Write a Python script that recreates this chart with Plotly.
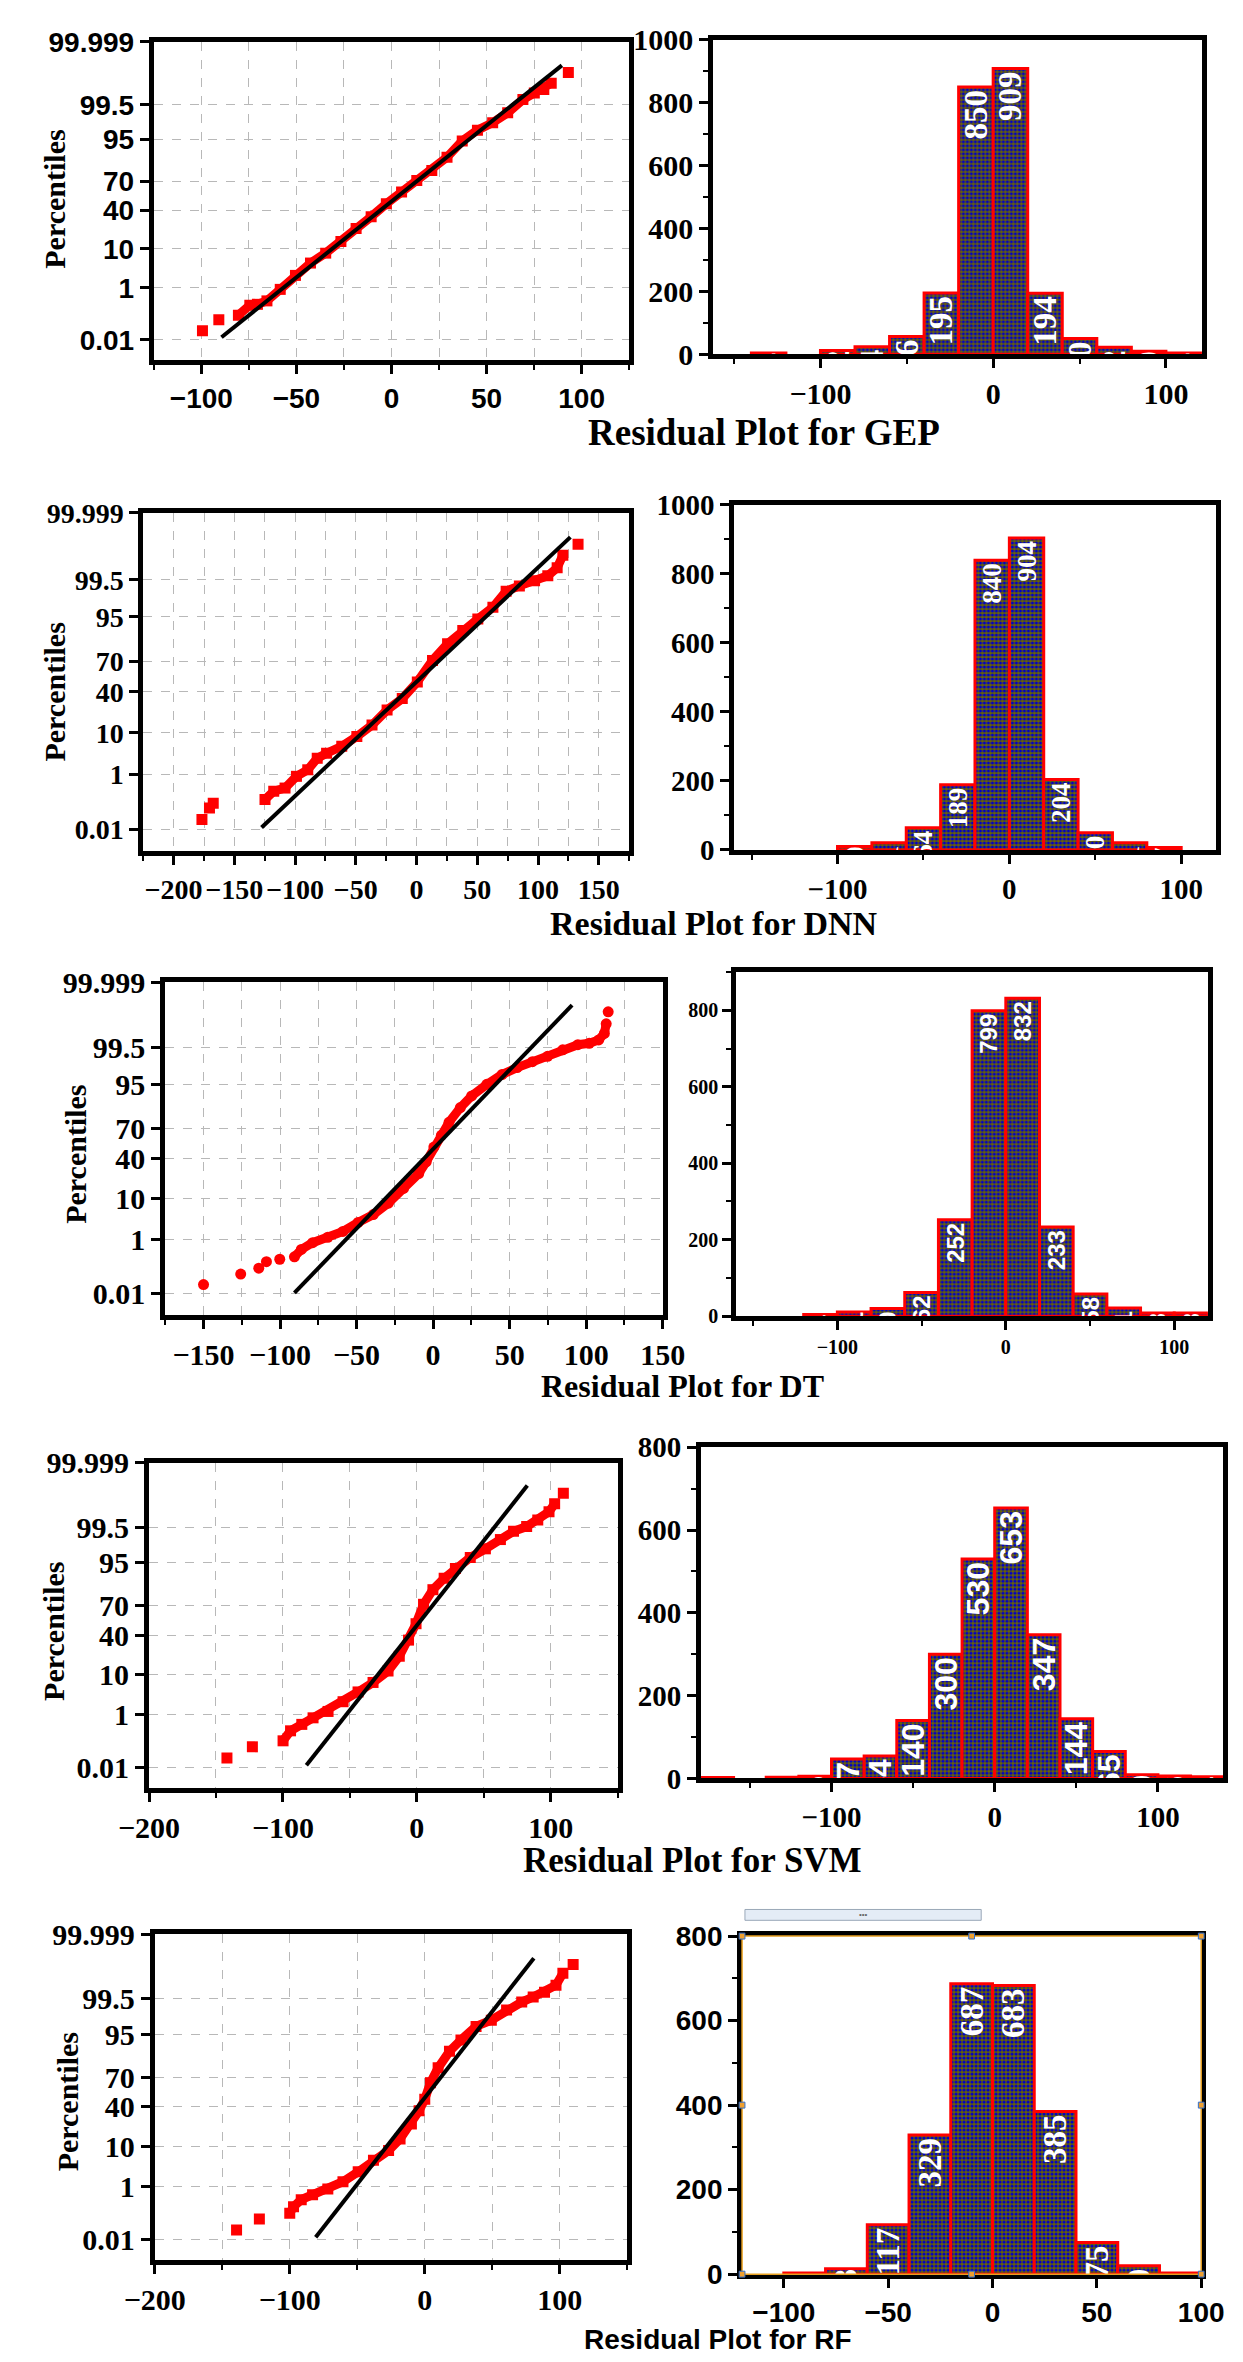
import numpy as np
import plotly.graph_objects as go

W, H = 1243, 2362
SERIF = "Liberation Serif, Times New Roman, serif"
SANS = "Liberation Sans, Arial, sans-serif"

# ---------------- data: normal probability plots ----------------
PCT_TICKS = [0.01, 1, 10, 40, 70, 95, 99.5, 99.999]
PCT_TICK_TEXT = ["0.01", "1", "10", "40", "70", "95", "99.5", "99.999"]
PCT_RANGE = [0.001, 99.999]

GEP_res_band = [-80.5, -74.5, -70.5, -65.5, -58.5, -50.5, -42.6, -34.6, -26.6, -18.6, -10.7, -2.7, 5.3, 13.3, 21.2,
                29.2, 37.2, 45.2, 53.2, 61.1, 69.1, 75.1, 80.1, 84.0]
GEP_pct_band = [0.11, 0.26, 0.28, 0.37, 0.89, 2.3, 4.8, 8.1, 13.8, 23, 33.6, 47, 59.5, 70.9, 79.2,
                87.9, 94.6, 97.1, 98.2, 99.09, 99.67, 99.81, 99.86, 99.92]
GEP_res_out = [-99.4, -90.8, 93.0]
GEP_pct_out = [0.025, 0.072, 99.971]
GEP_fit_res = [-89.4, 89.6]
GEP_fit_pct = [0.013, 99.986]

DNN_res_band = [-124.8, -117.6, -108.3, -98.9, -89.6, -81.8, -74.1, -61.6, -49.2, -36.7, -24.3, -11.8, 0.6, 13.1,
                25.5, 38.0, 50.4, 62.8, 73.7, 84.6, 97.1, 108.0, 115.7, 120.4]
DNN_pct_band = [0.15, 0.29, 0.37, 0.86, 1.33, 2.7, 3.6, 5.2, 8.4, 13.8, 23.9, 33.7, 50, 70.6,
                83.2, 90.3, 94.4, 97.0, 98.9, 99.23, 99.46, 99.63, 99.80, 99.93]
DNN_res_out = [-176.7, -170.5, -167.4, 132.9]
DNN_pct_out = [0.026, 0.074, 0.11, 99.974]
DNN_fit_res = [-127.6, 126.6]
DNN_fit_pct = [0.012, 99.987]

DT_res_band = [-90.6, -86.1, -78.7, -68.8, -58.9, -49.0, -39.1, -29.2, -19.3, -9.4, -4.5, 0.5, 5.4, 10.4, 17.8,
               25.2, 35.1, 45.0, 54.9, 64.9, 74.8, 84.7, 94.6, 102.0, 108.2, 111.9, 113.1]
DT_pct_band = [0.28, 0.49, 0.80, 1.16, 1.70, 2.94, 4.55, 8.1, 15.4, 26.1, 36.7, 51.6, 63.3, 74.9, 85.3,
               91.1, 95.0, 97.1, 98.1, 98.7, 99.09, 99.43, 99.61, 99.65, 99.73, 99.84, 99.93]
DT_res_out = [-150.0, -125.7, -113.9, -108.9, -100.2, 114.4]
DT_pct_out = [0.025, 0.066, 0.11, 0.19, 0.23, 99.977]
DT_fit_res = [-90.6, 90.8]
DT_fit_pct = [0.011, 99.988]

SVM_res_band = [-99.9, -94.3, -85.9, -77.5, -66.3, -55.1, -43.9, -32.7, -21.5, -13.1, -6.2, -0.6, 5.0, 12.0,
                20.4, 28.8, 39.9, 51.2, 62.4, 72.2, 82.0, 90.3, 98.7, 102.9]
SVM_pct_band = [0.126, 0.29, 0.48, 0.78, 1.22, 2.3, 4.1, 6.8, 11.7, 21.1, 35.2, 52, 71.2, 82.7,
                89.3, 93.3, 96.3, 97.8, 98.8, 99.33, 99.53, 99.72, 99.86, 99.93]
SVM_res_out = [-141.8, -122.8, 109.4]
SVM_pct_out = [0.026, 0.074, 99.974]
SVM_fit_res = [-82.5, 82.5]
SVM_fit_pct = [0.0126, 99.988]

RF_res_band = [-100.0, -97.2, -91.5, -83.1, -71.8, -60.6, -49.3, -38.0, -26.8, -18.3, -9.9, -4.2, 0.0, 4.2, 9.9,
               18.3, 26.8, 38.0, 49.3, 60.6, 71.8, 80.3, 88.7, 97.2, 102.3]
RF_pct_band = [0.12, 0.21, 0.37, 0.54, 0.82, 1.36, 2.56, 4.95, 8.2, 13.8, 24.2, 36.3, 48, 64.8, 77.9,
               88.5, 93.3, 96.8, 97.8, 98.87, 99.36, 99.56, 99.70, 99.83, 99.94]
RF_res_out = [-139.4, -122.5, 109.9]
RF_pct_out = [0.026, 0.073, 99.974]
RF_fit_res = [-80.8, 80.8]
RF_fit_pct = [0.0126, 99.986]

# ---------------- data: histograms ----------------
BIN_WIDTH = 20
GEP_bin_left = [-140, -100, -80, -60, -40, -20, 0, 20, 40, 60, 80, 100]
GEP_counts = [4, 12, 24, 56, 195, 850, 909, 194, 50, 22, 9, 4]
DNN_bin_left = [-100, -80, -60, -40, -20, 0, 20, 40, 60, 80]
DNN_counts = [10, 21, 64, 189, 840, 904, 204, 50, 21, 7]
DT_bin_left = [-120, -100, -80, -60, -40, -20, 0, 20, 40, 60, 80, 100]
DT_counts = [4, 11, 20, 62, 252, 799, 832, 233, 58, 21, 8, 8]
SVM_bin_left = [-180, -140, -120, -100, -80, -60, -40, -20, 0, 20, 40, 60, 80, 100, 120]
SVM_counts = [2, 3, 5, 47, 54, 140, 300, 530, 653, 347, 144, 65, 9, 6, 4]
RF_bin_left = [-100, -80, -60, -40, -20, 0, 20, 40, 60, 80]
RF_counts = [3, 13, 117, 329, 687, 683, 385, 75, 20, 3]

TITLES = ["Residual Plot for GEP", "Residual Plot for DNN", "Residual Plot for DT",
          "Residual Plot for SVM", "Residual Plot for RF"]


# ---------------- probit scale helper ----------------
def norm_ppf(pct):
    p = np.asarray(pct, float) / 100.0
    a = [-3.969683028665376e+01, 2.209460984245205e+02, -2.759285104469687e+02,
         1.383577518672690e+02, -3.066479806614716e+01, 2.506628277459239e+00]
    b = [-5.447609879822406e+01, 1.615858368580409e+02, -1.556989798598866e+02,
         6.680131188771972e+01, -1.328068155022803e+01]
    c = [-7.784894002430293e-03, -3.223964580411365e-01, -2.400758277161838e+00,
         -2.549671010229583e+00, 4.374664141464968e+00, 2.938163982698783e+00]
    d = [7.784695709041462e-03, 3.224671290700398e-01, 2.445134137142996e+00,
         3.754408661907416e+00]
    plow = 0.02425
    out = np.empty_like(p)
    lo = p < plow
    hi = p > 1 - plow
    mid = ~(lo | hi)
    q = np.sqrt(-2 * np.log(p[lo]))
    out[lo] = (((((c[0]*q+c[1])*q+c[2])*q+c[3])*q+c[4])*q+c[5]) / ((((d[0]*q+d[1])*q+d[2])*q+d[3])*q+1)
    q = p[mid] - 0.5
    r = q * q
    out[mid] = (((((a[0]*r+a[1])*r+a[2])*r+a[3])*r+a[4])*r+a[5])*q / (((((b[0]*r+b[1])*r+b[2])*r+b[3])*r+b[4])*r+1)
    q = np.sqrt(-2 * np.log(1 - p[hi]))
    out[hi] = -(((((c[0]*q+c[1])*q+c[2])*q+c[3])*q+c[4])*q+c[5]) / ((((d[0]*q+d[1])*q+d[2])*q+d[3])*q+1)
    return out


def PX(px):
    return px / W


def PY(py):
    return 1 - py / H


fig = go.Figure()
layout = dict(width=W, height=H, margin=dict(l=0, r=0, t=0, b=0), showlegend=False,
              paper_bgcolor="white", plot_bgcolor="white")
annotations = []
shapes = []

qq_panels = [
    dict(band=(GEP_res_band, GEP_pct_band), out=(GEP_res_out, GEP_pct_out), fit=(GEP_fit_res, GEP_fit_pct),
         xd=(120, 617), yd=(17, 340), xr=[-125, 125], major=50, minor=25, font=(SANS, 28), sym="square",
         ytitle=(16, 177)),
    dict(band=(DNN_res_band, DNN_pct_band), out=(DNN_res_out, DNN_pct_out), fit=(DNN_fit_res, DNN_fit_pct),
         xd=(109, 617), yd=(495, 838), xr=[-225, 175], major=50, minor=25, font=(SERIF, 28), sym="square",
         ytitle=(16, 677)),
    dict(band=(DT_res_band, DT_pct_band), out=(DT_res_out, DT_pct_out), fit=(DT_fit_res, DT_fit_pct),
         xd=(132, 652), yd=(971, 1309), xr=[-175, 150], major=50, minor=25, font=(SERIF, 30), sym="circle",
         ytitle=(38, 1146)),
    dict(band=(SVM_res_band, SVM_pct_band), out=(SVM_res_out, SVM_pct_out), fit=(SVM_fit_res, SVM_fit_pct),
         xd=(115, 605), yd=(1459, 1789), xr=[-200, 150], major=100, minor=50, font=(SERIF, 30), sym="square",
         ytitle=(15, 1630)),
    dict(band=(RF_res_band, RF_pct_band), out=(RF_res_out, RF_pct_out), fit=(RF_fit_res, RF_fit_pct),
         xd=(121, 615), yd=(1937, 2268), xr=[-200, 150], major=100, minor=50, font=(SERIF, 30), sym="square",
         ytitle=(30, 2107)),
]

hist_panels = [
    dict(bins=GEP_bin_left, counts=GEP_counts, xd=(705, 1216), yd=(15, 334), xr=[-162, 121], yr=[0, 1000],
         xmajor=100, xminor=50, tick=(SERIF, 30), lab=(SERIF, 33), title=(758, 413, SERIF, 37)),
    dict(bins=DNN_bin_left, counts=DNN_counts, xd=(727, 1230), yd=(487, 837), xr=[-160, 120], yr=[0, 1000],
         xmajor=100, xminor=50, tick=(SERIF, 29), lab=(SERIF, 27), title=(706, 912, SERIF, 34)),
    dict(bins=DT_bin_left, counts=DT_counts, xd=(729, 1222), yd=(961, 1310), xr=[-160, 120], yr=[0, 900],
         xmajor=100, xminor=50, tick=(SERIF, 20), lab=(SANS, 24), title=(673, 1381, SERIF, 32)),
    dict(bins=SVM_bin_left, counts=SVM_counts, xd=(692, 1238), yd=(1443, 1779), xr=[-180, 140], yr=[0, 800],
         xmajor=100, xminor=50, tick=(SERIF, 29), lab=(SANS, 32), title=(683, 1862, SERIF, 35)),
    dict(bins=RF_bin_left, counts=RF_counts, xd=(735, 1215), yd=(1939, 2282), xr=[-120, 100], yr=[0, 800],
         xmajor=50, xminor=None, tick=(SANS, 28), lab=(SERIF, 33), title=(710, 2348, SANS, 28)),
]

GRID = "#b8b8b8"
ax_i = 0


def axname(kind, i):
    return kind + ("" if i == 1 else str(i))


def frame_common(font):
    return dict(showline=True, mirror=True, linewidth=5, linecolor="black", zeroline=False,
                ticks="outside", ticklen=9, tickwidth=3, tickcolor="black", tickangle=0,
                tickfont=dict(family=font[0], size=font[1], color="black", weight="bold"))


ztick = norm_ppf(PCT_TICKS)
zrange = norm_ppf(PCT_RANGE)

for k in range(5):
    # ---- QQ panel ----
    q = qq_panels[k]
    ax_i += 1
    xa, ya = axname("xaxis", ax_i), axname("yaxis", ax_i)
    xr_, yr_ = axname("x", ax_i), axname("y", ax_i)
    fig.add_trace(go.Scatter(x=q["band"][0], y=norm_ppf(q["band"][1]), mode="lines+markers",
                             line=dict(color="#ff0000", width=9),
                             marker=dict(symbol=q["sym"], size=11, color="#ff0000"),
                             xaxis=xr_, yaxis=yr_))
    fig.add_trace(go.Scatter(x=q["out"][0], y=norm_ppf(q["out"][1]), mode="markers",
                             marker=dict(symbol=q["sym"], size=11, color="#ff0000"),
                             xaxis=xr_, yaxis=yr_))
    fig.add_trace(go.Scatter(x=q["fit"][0], y=norm_ppf(q["fit"][1]), mode="lines",
                             line=dict(color="black", width=4), xaxis=xr_, yaxis=yr_))
    xc = frame_common(q["font"])
    xc.update(domain=[PX(q["xd"][0]), PX(q["xd"][1])], range=q["xr"], anchor=yr_,
              tickmode="linear", tick0=0, dtick=q["major"],
              showgrid=True, gridcolor=GRID, griddash="dash", gridwidth=1,
              minor=dict(tick0=0, dtick=q["minor"], ticks="outside", ticklen=5, tickwidth=2,
                         tickcolor="black", showgrid=True, gridcolor=GRID, griddash="dash", gridwidth=1))
    yc = frame_common(q["font"])
    yc.update(domain=[PY(q["yd"][1]), PY(q["yd"][0])], range=list(zrange), anchor=xr_,
              tickmode="array", tickvals=list(ztick), ticktext=PCT_TICK_TEXT,
              showgrid=True, gridcolor=GRID, griddash="dash", gridwidth=1)
    layout[xa] = xc
    layout[ya] = yc
    annotations.append(dict(x=PX(q["ytitle"][0]), y=PY(q["ytitle"][1]), xref="paper", yref="paper",
                            xanchor="center", yanchor="middle",
                            text="Percentiles", textangle=-90, showarrow=False,
                            font=dict(family=SERIF, size=30, color="black", weight="bold")))

    # ---- histogram panel ----
    h = hist_panels[k]
    ax_i += 1
    xa, ya = axname("xaxis", ax_i), axname("yaxis", ax_i)
    xr_, yr_ = axname("x", ax_i), axname("y", ax_i)
    fig.add_trace(go.Bar(x=h["bins"], y=h["counts"], width=BIN_WIDTH, offset=0,
                         marker=dict(color="#0000c8",
                                     pattern=dict(shape=".", fgcolor="#0000c8", bgcolor="#6a6400",
                                                  size=4, solidity=0.5, fillmode="replace"),
                                     line=dict(color="#ff0000", width=3)),
                         text=[str(v) for v in h["counts"]], textposition="inside",
                         insidetextanchor="end", textangle=-90, constraintext="none",
                         textfont=dict(family=h["lab"][0], size=h["lab"][1], color="white", weight="bold"),
                         cliponaxis=True, xaxis=xr_, yaxis=yr_))
    xc = frame_common(h["tick"])
    xc.update(domain=[PX(h["xd"][0]), PX(h["xd"][1])], range=h["xr"], anchor=yr_,
              tickmode="linear", tick0=0, dtick=h["xmajor"], showgrid=False)
    if h["xminor"]:
        xc["minor"] = dict(tick0=0, dtick=h["xminor"], ticks="outside", ticklen=5, tickwidth=2,
                           tickcolor="black", showgrid=False)
    yc = frame_common(h["tick"])
    yc.update(domain=[PY(h["yd"][1]), PY(h["yd"][0])], range=h["yr"], anchor=xr_,
              tickmode="linear", tick0=0, dtick=200, showgrid=False,
              minor=dict(tick0=0, dtick=100, ticks="outside", ticklen=5, tickwidth=2,
                         tickcolor="black", showgrid=False))
    layout[xa] = xc
    layout[ya] = yc
    t = h["title"]
    annotations.append(dict(x=PX(t[0]), y=PY(t[1]), xref="paper", yref="paper", text=TITLES[k],
                            xanchor="center", yanchor="middle",
                            showarrow=False, font=dict(family=t[2], size=t[3], color="black", weight="bold")))

# selection decoration around the RF histogram
rf = hist_panels[4]
shapes.append(dict(type="rect", xref="paper", yref="paper",
                   x0=PX(rf["xd"][0]), x1=PX(rf["xd"][1]), y0=PY(rf["yd"][1]), y1=PY(rf["yd"][0]),
                   line=dict(color="#e8a020", width=1.5), fillcolor="rgba(0,0,0,0)"))
shapes.append(dict(type="rect", xref="paper", yref="paper",
                   x0=PX(738), x1=PX(985), y0=PY(1923), y1=PY(1912),
                   line=dict(color="#9aa8b8", width=1), fillcolor="#e4ecf6"))
annotations.append(dict(x=PX(862), y=PY(1917), xref="paper", yref="paper", text="•••", showarrow=False,
                        xanchor="center", yanchor="middle",
                        font=dict(family=SANS, size=8, color="#666666")))
for hx in (rf["xd"][0], (rf["xd"][0] + rf["xd"][1]) / 2, rf["xd"][1]):
    for hy in (rf["yd"][0], (rf["yd"][0] + rf["yd"][1]) / 2, rf["yd"][1]):
        if hx == (rf["xd"][0] + rf["xd"][1]) / 2 and hy == (rf["yd"][0] + rf["yd"][1]) / 2:
            continue
        shapes.append(dict(type="rect", xref="paper", yref="paper",
                           x0=PX(hx - 3), x1=PX(hx + 3), y0=PY(hy + 3), y1=PY(hy - 3),
                           line=dict(color="#3070d0", width=1), fillcolor="#f0a030"))

layout["annotations"] = annotations
layout["shapes"] = shapes
fig.update_layout(**layout)
fig.write_html("out.html")
